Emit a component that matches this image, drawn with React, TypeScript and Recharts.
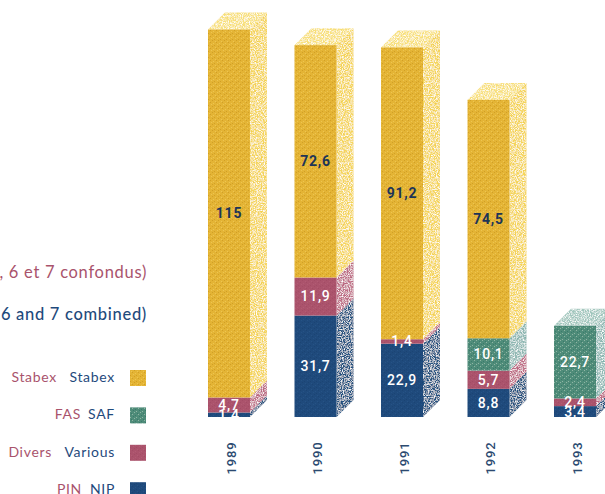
import { BarChart, Bar, XAxis, YAxis, LabelList } from "recharts";

const years = ["1989", "1990", "1991", "1992", "1993"];
const pin = [1.4, 31.7, 22.9, 8.8, 3.4];
const divers = [4.7, 11.9, 1.4, 5.7, 2.4];
const fas = [null, null, null, 10.1, 22.7];
const stabex = [115, 72.6, 91.2, 74.5, null];

const data = years.map((year, i) => ({
  year,
  pin: pin[i],
  divers: divers[i],
  fas: fas[i],
  stabex: stabex[i],
}));

const stackOrder = ["pin", "divers", "fas", "stabex"];

const ROSE = "#a9536c";
const NAVY = "#1f4a7c";
const DEPTH = 17;

// Rows of the bilingual key, top to bottom
const legendFr = ["Stabex", "FAS", "Divers", "PIN"];
const legendEn = ["Stabex", "SAF", "Various", "NIP"];
const legendKeys = ["stabex", "fas", "divers", "pin"];
const legendFrEnd = [57, 81, 52, 82];

// Printed-looking grain: base colour with a few specks in a small tile
function Grain({ id, base, speck, alt }: { id: string; base: string; speck: string; alt: string }) {
  return (
    <pattern id={id} width="6" height="6" patternUnits="userSpaceOnUse">
      <rect width="6" height="6" fill={base} />
      <rect x="0" y="0" width="1" height="1" fill={speck} />
      <rect x="3" y="1" width="1" height="1" fill={alt} />
      <rect x="1" y="2" width="1" height="1" fill={alt} />
      <rect x="4" y="3" width="1" height="1" fill={speck} />
      <rect x="2" y="4" width="1" height="1" fill={speck} />
      <rect x="5" y="5" width="1" height="1" fill={alt} />
    </pattern>
  );
}

function Textures() {
  return (
    <defs>
      <filter id="speckle" x="0" y="0" width="100%" height="100%">
        <feTurbulence type="fractalNoise" baseFrequency="0.85" numOctaves="2" seed="4" result="noise" />
        <feColorMatrix
          in="noise"
          type="matrix"
          values="0 0 0 0 1  0 0 0 0 1  0 0 0 0 1  0 0 0 2.6 -1.05"
          result="dots"
        />
        <feComposite in="dots" in2="SourceGraphic" operator="in" result="clipped" />
        <feMerge>
          <feMergeNode in="SourceGraphic" />
          <feMergeNode in="clipped" />
        </feMerge>
      </filter>
      <Grain id="stabex-front" base="#e4b435" speck="#d19f26" alt="#edc552" />
      <Grain id="stabex-side" base="#f5d55a" speck="#f8e27f" alt="#efcd51" />
      <Grain id="stabex-top" base="#f8e07a" speck="#fbeea8" alt="#f5dc76" />
      <Grain id="fas-front" base="#4f8c79" speck="#8fb5a5" alt="#3a7a6c" />
      <Grain id="fas-side" base="#8fb8b3" speck="#b5d2cd" alt="#7fb0aa" />
      <Grain id="fas-top" base="#a2c7be" speck="#c6dcd6" alt="#9cc4bc" />
      <Grain id="divers-front" base="#ab536c" speck="#a34c65" alt="#b25c74" />
      <Grain id="divers-side" base="#bf6e86" speck="#d593a6" alt="#b5607a" />
      <Grain id="pin-front" base="#1f4a7c" speck="#1b4473" alt="#265385" />
      <Grain id="pin-side" base="#27527f" speck="#3f6897" alt="#1f4a7c" />
    </defs>
  );
}

// One stacked segment as a box: front, receding side and, on the top segment, a lid
const prism = (key: string) => (props: any) => {
  const { x, y, width, height, payload } = props;
  if (!height || !Number.isFinite(height)) return null;
  const topKey = stackOrder.filter((k) => payload[k] != null).pop();
  const right = x + width;
  return (
    <g>
      <polygon
        points={`${right},${y} ${right + DEPTH},${y - DEPTH} ${right + DEPTH},${y + height - DEPTH} ${right},${y + height}`}
        fill={`url(#${key}-side)`}
        filter="url(#speckle)"
      />
      {topKey === key && (
        <polygon
          points={`${x},${y} ${x + DEPTH},${y - DEPTH} ${right + DEPTH},${y - DEPTH} ${right},${y}`}
          fill={`url(#${key}-top)`}
          filter="url(#speckle)"
        />
      )}
      <rect x={x} y={y} width={width} height={height} fill={`url(#${key}-front)`} />
    </g>
  );
};

const YearTick = ({ x, y, payload }: any) => (
  <text
    transform={`translate(${x + 2}, ${y + 33}) rotate(-90)`}
    textAnchor="middle"
    dominantBaseline="central"
    fontFamily="Roboto, sans-serif"
    fontSize={13}
    fontWeight={500}
    letterSpacing={0.8}
    fill="#2b4a70"
  >
    {payload.value}
  </text>
);

const comma = (v: any) => (v == null ? "" : String(v).replace(".", ","));

const labelStyle = {
  fontFamily: "Roboto, sans-serif",
  fontSize: 14,
  fontWeight: 500,
  letterSpacing: 0.8,
};

const textFont = { fontFamily: "Lato, sans-serif", letterSpacing: 0.7 };

function Key() {
  return (
    <svg width={190} height={494} style={{ position: "absolute", left: 0, top: 0 }}>
      <Textures />
      <text x={147} y={278} textAnchor="end" fontSize={16.5} fill={ROSE} {...textFont}>
        , 6 et 7 confondus)
      </text>
      <text x={147} y={320} textAnchor="end" fontSize={16.5} fontWeight={500} fill={NAVY} {...textFont}>
        6 and 7 combined)
      </text>
      {legendKeys.map((key, i) => {
        const top = 370 + i * 37.4;
        return (
          <g key={key}>
            <text x={legendFrEnd[i]} y={top + 12} textAnchor="end" fontSize={14} fill={ROSE} {...textFont}>
              {legendFr[i]}
            </text>
            <text x={115} y={top + 12} textAnchor="end" fontSize={14} fill={NAVY} {...textFont}>
              {legendEn[i]}
            </text>
            <rect x={130} y={top} width={16} height={16} fill={`url(#${key}-front)`} />
          </g>
        );
      })}
    </svg>
  );
}

export default function App() {
  return (
    <div
      style={{
        position: "absolute",
        left: 0,
        top: 0,
        width: 605,
        height: 494,
        overflow: "hidden",
        background: "#fff",
      }}
    >
      <Key />
      <div style={{ position: "absolute", left: 0, top: 0 }}>
        <BarChart
          width={640}
          height={494}
          data={data}
          margin={{ top: 1, right: 21.5, bottom: 0, left: 186 }}
          barSize={42}
          style={{ background: "transparent" }}
        >
          <Textures />
          <XAxis dataKey="year" height={77} axisLine={false} tickLine={false} tick={<YearTick />} interval={0} />
          <YAxis hide width={0} domain={[0, 130]} />
          <Bar dataKey="pin" stackId="a" isAnimationActive={false} shape={prism("pin")}>
            <LabelList dataKey="pin" position="center" fill="#fff" formatter={comma} style={labelStyle} />
          </Bar>
          <Bar dataKey="divers" stackId="a" isAnimationActive={false} shape={prism("divers")}>
            <LabelList dataKey="divers" position="center" fill="#fff" formatter={comma} style={labelStyle} />
          </Bar>
          <Bar dataKey="fas" stackId="a" isAnimationActive={false} shape={prism("fas")}>
            <LabelList dataKey="fas" position="center" fill="#fff" formatter={comma} style={labelStyle} />
          </Bar>
          <Bar dataKey="stabex" stackId="a" isAnimationActive={false} shape={prism("stabex")}>
            <LabelList
              dataKey="stabex"
              position="center"
              fill="#1d3557"
              formatter={comma}
              style={{ ...labelStyle, fontWeight: 700 }}
            />
          </Bar>
        </BarChart>
      </div>
    </div>
  );
}
